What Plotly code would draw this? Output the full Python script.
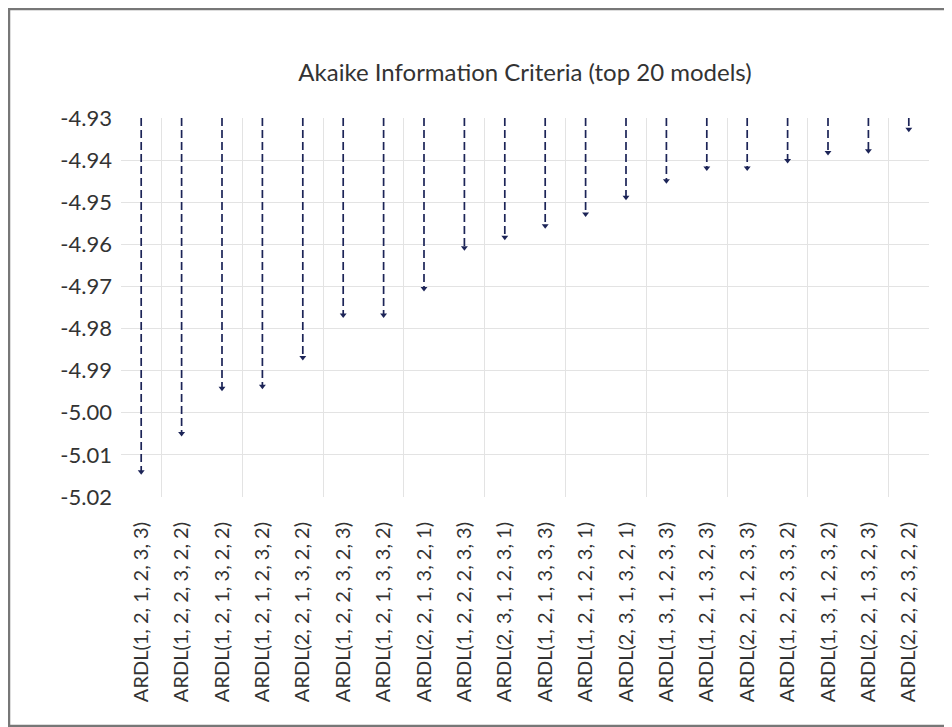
import plotly.graph_objects as go

categories = [
    "ARDL(1, 2, 1, 2, 3, 3)", "ARDL(1, 2, 2, 3, 2, 2)", "ARDL(1, 2, 1, 3, 2, 2)",
    "ARDL(1, 2, 1, 2, 3, 2)", "ARDL(2, 2, 1, 3, 2, 2)", "ARDL(1, 2, 2, 3, 2, 3)",
    "ARDL(1, 2, 1, 3, 3, 2)", "ARDL(2, 2, 1, 3, 2, 1)", "ARDL(1, 2, 2, 2, 3, 3)",
    "ARDL(2, 3, 1, 2, 3, 1)", "ARDL(1, 2, 1, 3, 3, 3)", "ARDL(1, 2, 1, 2, 3, 1)",
    "ARDL(2, 3, 1, 3, 2, 1)", "ARDL(1, 3, 1, 2, 3, 3)", "ARDL(1, 2, 1, 3, 2, 3)",
    "ARDL(2, 2, 1, 2, 3, 3)", "ARDL(1, 2, 2, 3, 3, 2)", "ARDL(1, 3, 1, 2, 3, 2)",
    "ARDL(2, 2, 1, 3, 2, 3)", "ARDL(2, 2, 2, 3, 2, 2)",
]
aic = [
    -5.0140, -5.0049, -4.9942, -4.9937, -4.9869, -4.9768, -4.9768, -4.9705,
    -4.9608, -4.9583, -4.9556, -4.9528, -4.9488, -4.9449, -4.9419, -4.9419,
    -4.9401, -4.9382, -4.9378, -4.9327,
]
y_top = -4.93
y_bottom = -5.02
y_ticks = [-4.93, -4.94, -4.95, -4.96, -4.97, -4.98, -4.99, -5.00, -5.01, -5.02]

positions = list(range(1, len(categories) + 1))
line_x, line_y = [], []
for p, v in zip(positions, aic):
    line_x += [p, p, None]
    line_y += [y_top, v, None]

navy = "#1c2457"
font_family = "Lato, 'Open Sans', sans-serif"

# page has an 8px body margin, so the figure is shifted by 8px
W, H = 944, 719
ML, MT, MR = 113, 110, 23
PW, PH = W - ML - MR, 379
MB = H - MT - PH

fig = go.Figure()
fig.add_trace(go.Scatter(
    x=line_x, y=line_y, mode="lines",
    line=dict(color=navy, width=1.7, dash="8px,4px"),
    hoverinfo="skip", showlegend=False,
))
fig.add_trace(go.Scatter(
    x=positions, y=aic, mode="markers",
    marker=dict(symbol="triangle-down", size=6, color=navy),
    showlegend=False,
))

fig.update_layout(
    width=W, height=H,
    paper_bgcolor="white", plot_bgcolor="white",
    margin=dict(l=ML, r=MR, t=MT, b=MB),
    font=dict(family=font_family, color="#333333"),
    title=dict(
        text="Akaike Information Criteria (top 20 models)",
        x=0.5, xanchor="center", xref="paper",
        y=1 - 65 / H, yanchor="middle", yref="container",
        font=dict(size=24, color="#333333", family=font_family),
    ),
    xaxis=dict(
        range=[0.5, len(categories) + 0.5],
        tickmode="array", tickvals=positions, ticktext=categories,
        tickangle=-90, showgrid=False, zeroline=False, showline=False,
        tickfont=dict(size=20, color="#333333"),
        ticklabelstandoff=20,
        minor=dict(
            tickmode="array",
            tickvals=[p + 0.5 for p in positions[::2]],
            showgrid=True, gridcolor="#e3e3e3", gridwidth=1,
        ),
    ),
    yaxis=dict(
        range=[y_bottom, y_top],
        tickmode="array", tickvals=y_ticks,
        ticktext=[f"{t:.2f}" for t in y_ticks],
        showgrid=True, gridcolor="#e3e3e3", gridwidth=1,
        zeroline=False, showline=False,
        tickfont=dict(size=22, color="#333333"),
        ticklabelstandoff=8,
    ),
    shapes=[dict(
        type="rect", xref="paper", yref="paper",
        x0=-(ML - 1) / PW, x1=1 + (MR + 20) / PW,
        y0=-(MB - 1) / PH, y1=1 + (MT - 1) / PH,
        line=dict(color="#777777", width=2.5), fillcolor="rgba(0,0,0,0)",
        layer="below",
    )],
)

fig.write_html("out.html")
